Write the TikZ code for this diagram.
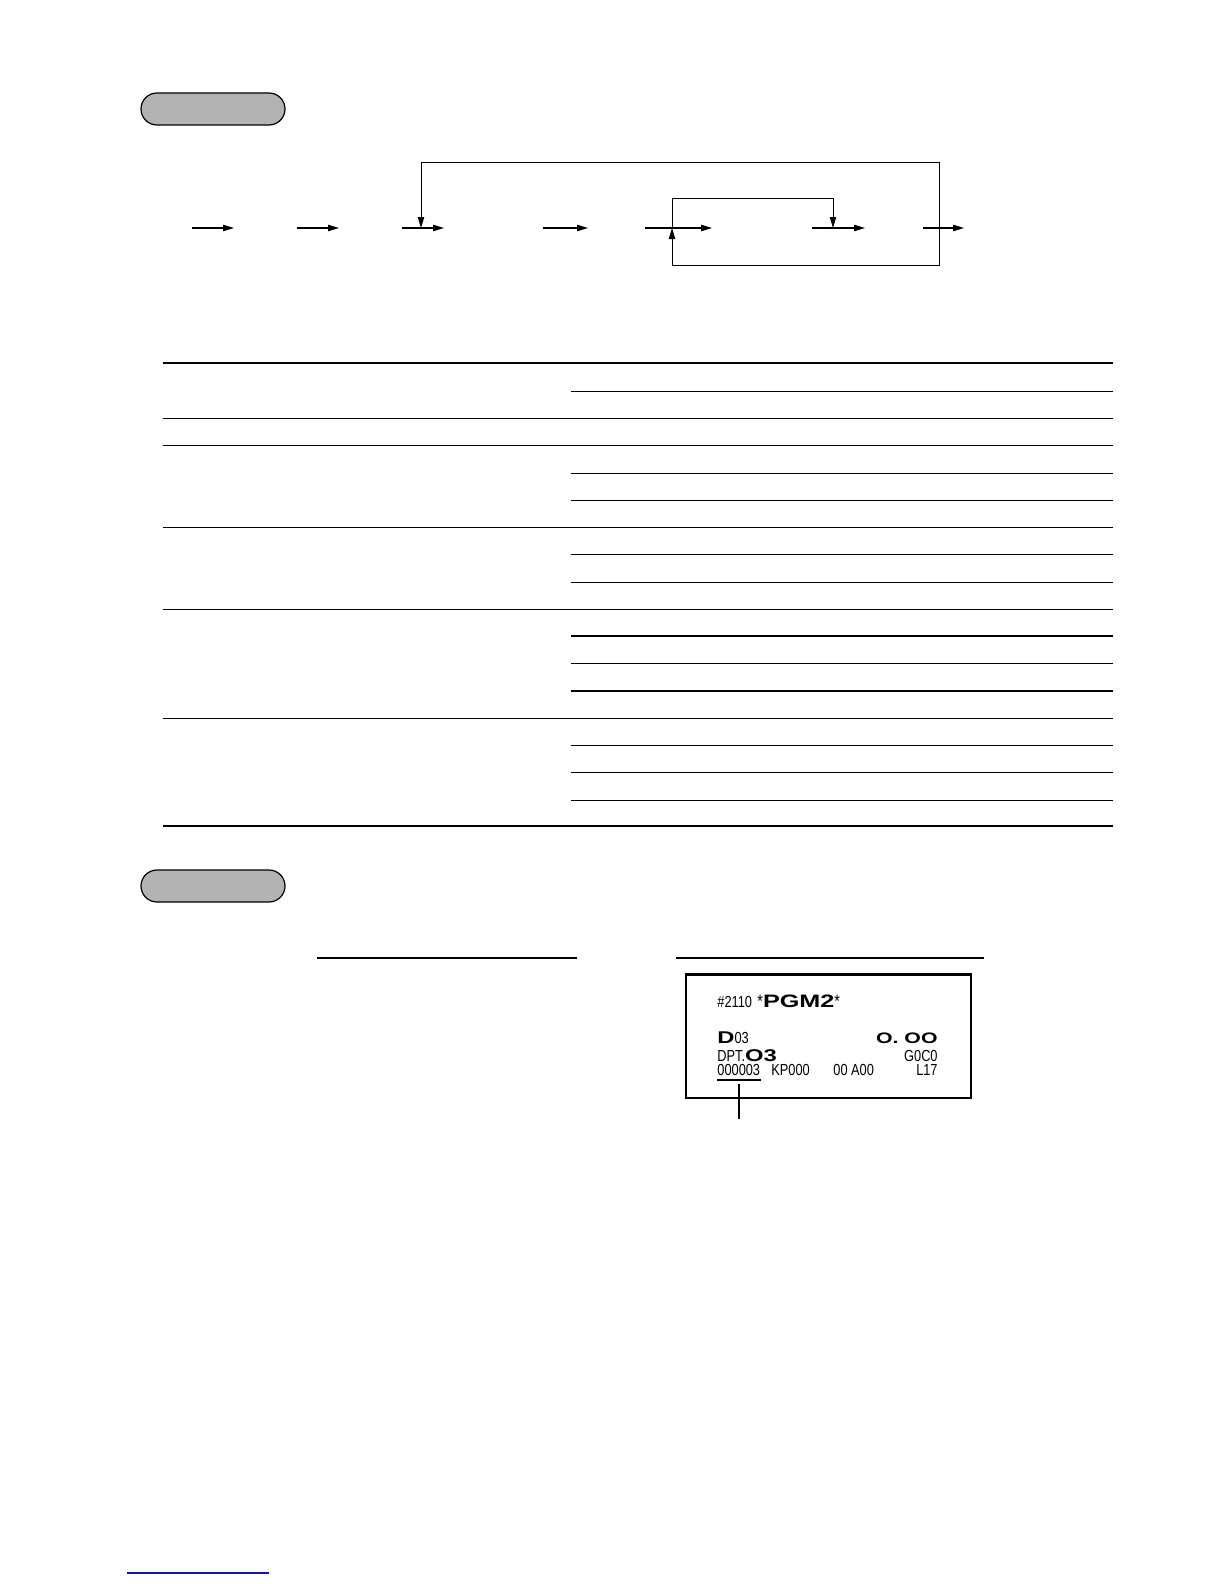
\documentclass[tikz,border=0pt]{standalone}
\usepackage{fontspec}
\usepackage{tikz,xcolor}
\usetikzlibrary{calc,positioning,shapes.misc,arrows.meta}
\newfontfamily\rcptfont[FakeStretch=0.8]{Liberation Sans}
\newfontfamily\rcptbig[FakeStretch=1.4]{Liberation Sans}
\definecolor{pillgray}{RGB}{179,179,179}
\definecolor{linkblue}{RGB}{20,20,160}

\begin{document}
\begin{tikzpicture}[x=0.5pt,y=-0.5pt,
    pill/.style={rounded rectangle,draw,line width=0.6pt,fill=pillgray,minimum width=72pt,minimum height=16pt,inner sep=0pt},
    flowarrow/.style={line width=0.6pt,-{Triangle[length=5.5pt,width=3.2pt]}},
    loopline/.style={line width=0.5pt},
    thinrule/.style={line width=0.65pt},
    thickrule/.style={line width=1.4pt},
    small/.style={font=\rcptfont\fontsize{8}{8}\selectfont,inner sep=0pt},
    big/.style={font=\rcptbig\bfseries\fontsize{7.6}{7.6}\selectfont,inner sep=0pt}]
    \useasboundingbox (0,0) rectangle (1224,1584);

    % procedure
    \node[pill] (proc) at (213,109) {};
    \foreach \xa/\xb in {192/234,297/339,402/444,543/588,645/712,812/865,923/964}
        \draw[flowarrow] (\xa,228) -- (\xb,228);
    \coordinate (loopout) at (939,228);
    \coordinate (loopin) at (421,228);
    \coordinate (skipin) at (672,228);
    \coordinate (skipout) at (833,228);
    \draw[loopline,-{Triangle[length=5.5pt,width=3.2pt]}] (loopout) -- (939,162) -- (421,162) -- (loopin);
    \draw[loopline,-{Triangle[length=5.5pt,width=3.2pt]}] (loopout) -- (939,265) -- (672,265) -- (skipin);
    \draw[loopline,-{Triangle[length=5.5pt,width=3.2pt]}] (skipin) -- (672,198) -- (833,198) -- (skipout);

    % table
    \draw[thickrule] (163,363) -- (1113,363)  (163,826) -- (1113,826);
    \foreach \y in {418.3,445.3,527.3,609.3,718.3}
        \draw[thinrule] (163,\y) -- (1113,\y);
    \foreach \y in {391.7,473.3,500.3,554.3,582.3,636,663.3,691,745.3,772.3,800.3}
        \draw[thinrule] (571,\y) -- (1113,\y);

    % print out
    \node[pill] (print) at (213,886) {};
    \draw[thinrule] (317,958) -- (577,958)  (676,958) -- (984,958);
    \draw[line width=0.8pt] (686,974) rectangle (971,1098);
    \draw[line width=1.5pt] (686,974) -- (971,974);

    \node[small,anchor=base west] (pnum) at (717,1007) {\#2110};
    \node[anchor=base west,inner sep=0pt] (pgm) at (757,1007) {\rcptfont\fontsize{9}{9}\selectfont *\rcptbig\bfseries\fontsize{9}{9}\selectfont PGM2\rcptfont\mdseries\fontsize{9}{9}\selectfont *};
    \node[anchor=base west,inner sep=0pt] (dept) at (717,1043) {\rcptbig\bfseries\fontsize{8.5}{8.5}\selectfont D\rcptfont\mdseries\fontsize{8}{8}\selectfont 03};
    \node[big,anchor=base east] (price) at (938,1043) {O. OO};
    \node[anchor=base west,inner sep=0pt] (dptname) at (717,1061) {\rcptfont\fontsize{8}{8}\selectfont DPT.\rcptbig\bfseries\fontsize{8.5}{8.5}\selectfont O3};
    \node[small,anchor=base east] (group) at (938,1061) {G0C0};
    \node[small,anchor=base west] (seq) at (717,1075) {000003};
    \node[small,anchor=base west] (kp) at (771,1075) {KP000};
    \node[small,anchor=base west] (attr) at (833,1075) {00 A00};
    \node[small,anchor=base east] (link) at (938,1075) {L17};
    \coordinate (seqline) at (739,1084);
    \coordinate (seqtail) at (739,1119);
    \draw[line width=0.6pt] (717,1080) -- (761,1080);
    \draw[line width=0.6pt] (seqline) -- (seqtail);

    \draw[linkblue,line width=0.6pt] (127,1573) -- (269,1573);
\end{tikzpicture}
\end{document}
